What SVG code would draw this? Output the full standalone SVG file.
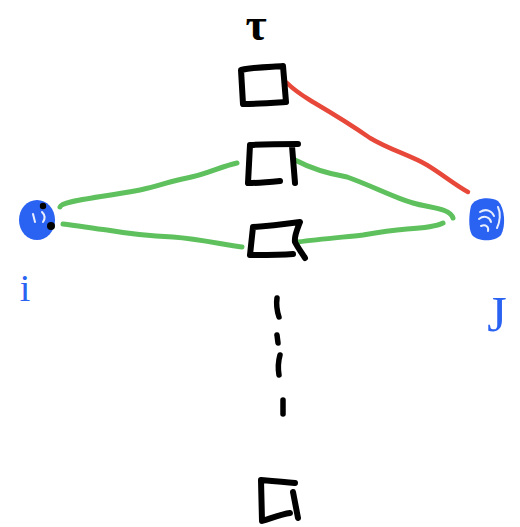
<svg xmlns="http://www.w3.org/2000/svg" width="520" height="527" viewBox="0 0 520 527">
  <style>
    .box { fill: none; stroke: #000; stroke-width: 6; stroke-linecap: round; stroke-linejoin: round; }
    .dash { fill: none; stroke: #000; stroke-width: 5.5; stroke-linecap: round; }
    .green { fill: none; stroke: #5ec15e; stroke-width: 5; stroke-linecap: round; stroke-linejoin: round; }
    .red { fill: none; stroke: #e8483a; stroke-width: 4.5; stroke-linecap: round; stroke-linejoin: round; }
    .blob { fill: #2a62f2; }
    .shine { fill: none; stroke: #fff; stroke-width: 2; stroke-linecap: round; opacity: 0.9; }
    .lbl { fill: #2a62f2; font-family: "Liberation Serif", "DejaVu Serif", serif; }
  </style>
  <rect width="520" height="527" fill="#fff"/>

  <!-- connectors -->
  <g id="edges">
    <path class="red" d="M287,83 C296,92 305,97 313,102 C330,112 350,124 370,138 C390,150 410,155 427,165 C442,174 455,185 468,192"/>
    <path class="green" d="M60,207 C62,201 90,199 140,190 C160,186 170,181 187,178 C205,175 222,166 237,163"/>
    <path class="green" d="M63,224 C80,226 95,229 107,230 C130,234 150,236 173,237 C200,239 225,245 242,247"/>
    <path class="green" d="M295,160 C310,168 330,174 347,177 C370,185 395,198 413,203 C430,208 450,208 453,218"/>
    <path class="green" d="M298,242 C320,239 345,237 363,235 C380,232 395,230 407,229 C425,228 437,226 443,223"/>
  </g>

  <!-- top node with its label -->
  <g id="node-tau">
    <text x="256" y="40" font-family="'Liberation Serif', 'DejaVu Serif', serif" font-size="46" font-weight="bold" text-anchor="middle" fill="#000">τ</text>
    <path class="box" d="M243,104 L241,70 C255,67 270,67 283,66 L286,102 C270,103 255,104 243,104 Z"/>
  </g>

  <g id="node-k1">
    <path class="box" d="M250,145 C268,144 285,144 298,144 M250,145 L248,183 C260,183 270,182 280,181 M292,146 L295,183"/>
  </g>

  <g id="node-k2">
    <path class="box" d="M253,227 L250,255 C265,255 280,255 293,254 M253,227 C270,226 285,224 300,222 C297,230 294,236 295,242 C298,248 302,253 305,258"/>
  </g>

  <!-- ellipsis between intermediate nodes -->
  <g id="gap">
    <path class="dash" d="M277,298 C276,305 277,311 279,317"/>
    <path class="dash" d="M277,335 L278,343"/>
    <path class="dash" d="M280,355 C278,362 278,369 279,375"/>
    <path class="dash" d="M283,400 L283,414"/>
  </g>

  <g id="node-kn">
    <path class="box" d="M261,480 C273,481 285,482 295,483 M261,480 L262,521 C272,518 282,514 290,513 M293,492 L298,518"/>
  </g>

  <g id="node-i">
    <ellipse class="blob" cx="37" cy="220" rx="18" ry="20"/>
    <path class="shine" d="M33,214 L35,222 M42,212 C45,215 45,219 43,222"/>
    <circle cx="43" cy="206" r="3.2" fill="#000"/>
    <circle cx="51" cy="226" r="4" fill="#000"/>
    <text class="lbl" x="25" y="301" font-size="38" text-anchor="middle">i</text>
  </g>

  <g id="node-j">
    <path class="blob" d="M471,206 C474,198 490,196 498,201 C505,208 506,226 501,235 C495,242 478,242 472,235 C468,228 469,214 471,206 Z"/>
    <path class="shine" d="M480,212 C486,208 492,211 494,216 M479,219 C484,215 490,217 491,222 M481,226 C486,224 489,227 488,231 M498,207 C501,213 500,222 497,228"/>
    <text class="lbl" x="497" y="331" font-size="50" text-anchor="middle">J</text>
  </g>
</svg>
